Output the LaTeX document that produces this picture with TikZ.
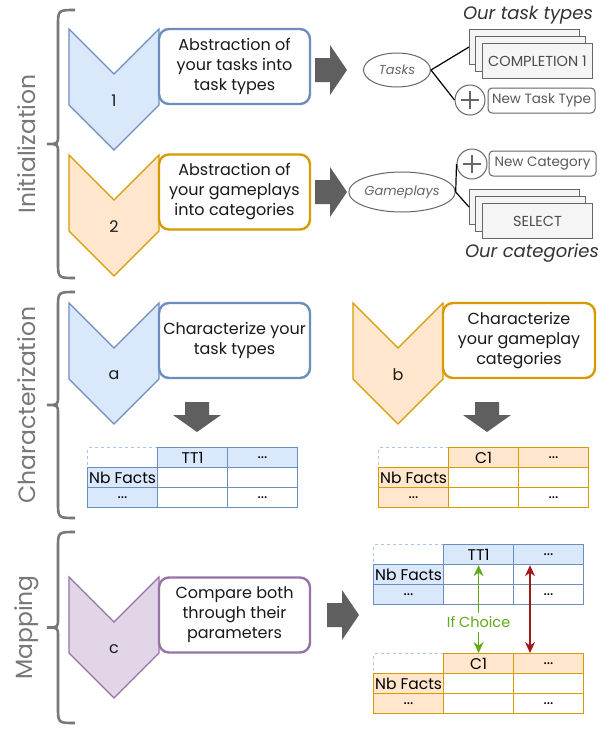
\documentclass[tikz,border=0pt]{standalone}
\usepackage{fontspec}
\setmainfont{Poppins}
\usepackage{tikz}
\usetikzlibrary{shapes.geometric,arrows.meta}

\definecolor{bluefill}{HTML}{DAE8FC}
\definecolor{blueline}{HTML}{6C8EBF}
\definecolor{orangefill}{HTML}{FFE6CC}
\definecolor{orangeline}{HTML}{D79B00}
\definecolor{purplefill}{HTML}{E1D5E7}
\definecolor{purpleline}{HTML}{9673A6}
\definecolor{cardfill}{HTML}{F5F5F5}
\definecolor{cardline}{HTML}{666666}
\definecolor{arrowgray}{HTML}{5F5F5F}
\definecolor{sidegray}{HTML}{787878}
\definecolor{choicegreen}{HTML}{60A917}
\definecolor{mapred}{HTML}{A01818}
\definecolor{dashblue}{HTML}{A9C4EB}

\begin{document}
\begin{tikzpicture}[x=1pt,y=-1pt,
    every node/.style={font=\fontsize{16}{20}\selectfont,text=black!90},
    bluechev/.style={draw=blueline,fill=bluefill,line width=1.2pt},
    orangechev/.style={draw=orangeline,fill=orangefill,line width=1.2pt},
    purplechev/.style={draw=purpleline,fill=purplefill,line width=1.2pt},
    stepbox/.style={rounded corners=10pt,fill=white,line width=2.4pt,minimum width=151pt,
        minimum height=75pt,align=center,inner sep=0pt},
    sidebrace/.style={draw=sidegray,line width=2.6pt},
    sidelabel/.style={font=\fontsize{23.5}{26}\selectfont,text=sidegray},
    bigarrow/.pic={\fill[arrowgray] (0,-12) -- (15,-12) -- (15,-25) -- (32,0) -- (15,25) -- (15,12) -- (0,12) -- cycle;},
    downarrow/.pic={\fill[arrowgray] (-12,0) -- (-12,13) -- (-24,13) -- (0,30) -- (24,13) -- (12,13) -- (12,0) -- cycle;},
    oval/.style={ellipse,draw=cardline,line width=1pt,inner sep=0pt,
        font=\fontsize{13}{15}\selectfont\itshape,text=black!60},
    card/.style={draw=cardline,fill=cardfill,line width=1pt,minimum width=110pt,minimum height=35pt,
        anchor=north west,inner sep=0pt,font=\fontsize{14.5}{16}\selectfont,text=black!70},
    addcircle/.style={circle,draw=cardline,fill=white,line width=1pt,minimum size=30pt,inner sep=0pt,
        path picture={\draw[cardline,line width=1.3pt]
            ([xshift=-9pt]path picture bounding box.center) -- ([xshift=9pt]path picture bounding box.center)
            ([yshift=-9pt]path picture bounding box.center) -- ([yshift=9pt]path picture bounding box.center);}},
    newbox/.style={draw=cardline,rounded corners=4pt,fill=white,line width=1pt,minimum width=107pt,
        minimum height=25pt,inner sep=0pt,font=\fontsize{13.5}{15}\selectfont,text=black!65},
    treelink/.style={draw=black,line width=1.2pt},
    cardtitle/.style={font=\fontsize{18}{20}\selectfont\itshape,text=black!80},
    tcell/.style={anchor=north west,minimum width=70pt,minimum height=20pt,inner sep=0pt,line width=1.2pt,
        font=\fontsize{15.5}{16}\selectfont,text=black},
    bluecell/.style={fill=bluefill,draw=blueline},
    blueplain/.style={fill=white,draw=blueline},
    orangecell/.style={fill=orangefill,draw=orangeline},
    orangeplain/.style={fill=white,draw=orangeline},
    greenlink/.style={<->,>={Stealth[length=11pt,width=10pt]},draw=choicegreen,line width=1.3pt},
    redlink/.style={<->,>={Stealth[length=11pt,width=10pt]},draw=mapred,line width=1.3pt}
    ]
    \useasboundingbox (0,0) rectangle (611,729);
    \fill[white] (0,0) rectangle (611,729);

    % phase braces
    \foreach \yt/\yb/\nm/\txt in {10/278/init/Initialization, 292/518/char/Characterization, 532/723/map/Mapping} {
        \pgfmathsetmacro\ym{(\yt+\yb)/2}
        \draw[sidebrace] (75,\yt) .. controls (58,\yt) .. (58,\yt+16) -- (58,\ym-9)
            .. controls (58,\ym) .. (47,\ym) .. controls (58,\ym) .. (58,\ym+9)
            -- (58,\yb-16) .. controls (58,\yb) .. (75,\yb);
        \node[sidelabel,rotate=90] (\nm) at (27,\ym) {\txt};
    }

    % steps
    \foreach \x/\y/\col/\lbl in {69/29/blue/1, 69/155/orange/2, 69/303/blue/a, 353/303/orange/b, 69/577/purple/c} {
        \draw[\col chev] (\x,\y) -- ++(45,45) -- ++(45,-45) -- ++(0,76) -- ++(-45,45) -- ++(-45,-45) -- cycle;
        \node (step\lbl) at (\x+45,\y+72) {\lbl};
    }
    \node[stepbox,draw=blueline] (box1) at (234.5,66.5) {Abstraction of\\your tasks into\\task types};
    \node[stepbox,draw=orangeline] (box2) at (234.5,192) {Abstraction of\\your gameplays\\into categories};
    \node[stepbox,draw=blueline] (boxa) at (234.5,340.5) {Characterize your\\task types};
    \node[stepbox,draw=orangeline,minimum width=152pt] (boxb) at (519,340.5) {Characterize\\your gameplay\\categories};
    \node[stepbox,draw=purpleline] (boxc) at (234.5,615) {Compare both\\through their\\parameters};

    % big arrows
    \pic at (315,70) {bigarrow};
    \pic at (315,192) {bigarrow};
    \pic at (327,615) {bigarrow};
    \pic at (197,402) {downarrow};
    \pic at (487,402) {downarrow};

    % task types
    \node[cardtitle] (ourtt) at (528,15) {Our task types};
    \node[oval,minimum width=67pt,minimum height=34pt] (tasks) at (397,70) {Tasks};
    \node[card] (tt3) at (469,29) {};
    \node[card] (tt2) at (475,36) {};
    \node[card] (tt1) at (482,43) {COMPLETION 1};
    \node[addcircle] (addtt) at (470,100) {};
    \node[newbox] (newtt) at (541.5,100.5) {New Task Type};
    \draw[treelink] (tasks.east) -- (tt3.west);
    \draw[treelink] (tasks.east) -- (addtt.west);

    % categories
    \node[oval,minimum width=90pt,minimum height=40pt] (gameplays) at (402,192) {Gameplays};
    \node[addcircle] (addcat) at (472,164) {};
    \node[newbox] (newcat) at (542.5,163.5) {New Category};
    \node[card] (cat3) at (469,189) {};
    \node[card] (cat2) at (475,196) {};
    \node[card] (cat1) at (482,203) {SELECT};
    \node[cardtitle] (ourcat) at (532,253) {Our categories};
    \draw[treelink] (gameplays.east) -- (addcat.west);
    \draw[treelink] (gameplays.east) -- (cat3.west);

    % tables
    \foreach \tn/\x/\y/\col/\hd in {ta/87/447/blue/TT1, tb/378/447/orange/C1, tm/373/544/blue/TT1, cm/373/653/orange/C1} {
        \node[tcell,draw=dashblue,dashed,fill=white] (\tn-00) at (\x,\y) {};
        \node[tcell,\col cell] (\tn-01) at (\x+70,\y) {\hd};
        \node[tcell,\col cell] (\tn-02) at (\x+140,\y) {...};
        \node[tcell,\col cell] (\tn-10) at (\x,\y+20) {Nb Facts};
        \node[tcell,\col plain] (\tn-11) at (\x+70,\y+20) {};
        \node[tcell,\col plain] (\tn-12) at (\x+140,\y+20) {};
        \node[tcell,\col cell] (\tn-20) at (\x,\y+40) {...};
        \node[tcell,\col plain] (\tn-21) at (\x+70,\y+40) {};
        \node[tcell,\col plain] (\tn-22) at (\x+140,\y+40) {...};
    }

    % mapping
    \draw[greenlink] (tm-01.south) -- node[pos=0.65,fill=white,inner sep=4pt,text=choicegreen,
        font=\fontsize{14.5}{16}\selectfont] (choice) {If Choice} (cm-01.north);
    \draw[redlink] ([xshift=17pt]tm-02.south west) -- ([xshift=17pt]cm-02.north west);
\end{tikzpicture}
\end{document}
